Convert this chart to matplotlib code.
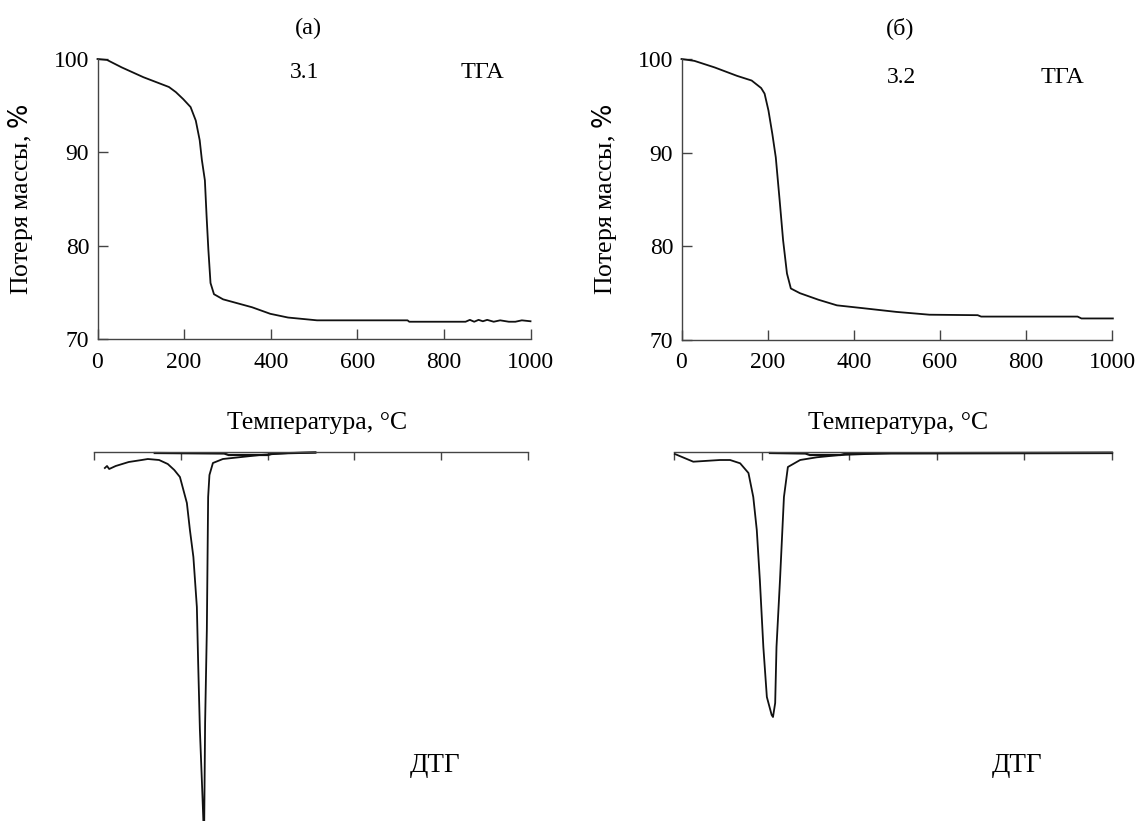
import numpy as np
import matplotlib.pyplot as plt

plt.rcParams['font.family'] = ['Liberation Serif', 'DejaVu Serif']
plt.rcParams['mathtext.fontset'] = 'custom'
plt.rcParams['mathtext.it'] = 'Liberation Serif:italic'

# ТГА, образец 3.1 (а)
tga_a_t = [0, 22, 56, 106, 165, 181, 198, 215, 227, 236, 241, 248, 252, 256, 261, 269,
           290, 357, 399, 440, 507, 716, 720, 850, 860, 870, 880, 890, 900, 915, 930,
           950, 965, 980, 1000]
tga_a_m = [100.0, 99.9, 99.1, 98.05, 97.0, 96.45, 95.7, 94.85, 93.4, 91.3, 89.2, 87.0,
           83.1, 79.6, 76.0, 74.8, 74.25, 73.4, 72.7, 72.3, 72.0, 72.0, 71.85, 71.85,
           72.05, 71.85, 72.05, 71.9, 72.05, 71.85, 72.0, 71.85, 71.85, 72.0, 71.9]

# ТГА, образец 3.2 (б)
tga_b_t = [0, 30, 77, 129, 163, 185, 193, 202, 211, 219, 228, 236, 245, 254, 275, 318,
           361, 421, 499, 576, 688, 696, 920, 929, 1002]
tga_b_m = [100.0, 99.8, 99.1, 98.2, 97.7, 96.9, 96.3, 94.5, 92.0, 89.5, 84.9, 80.65,
           77.1, 75.5, 75.0, 74.3, 73.7, 73.4, 73.0, 72.7, 72.65, 72.5, 72.5, 72.3, 72.3]

# ДТГ (условные единицы)
dtg_a_t = [25, 30, 35, 50, 80, 110, 124, 150, 170, 185, 198, 214, 221, 229, 237, 240,
           244, 250, 252, 254, 256, 260, 263, 266, 274, 297, 340, 383, 450, 510]
dtg_a_v = [-1.6, -1.4, -1.7, -1.4, -1.0, -0.8, -0.7, -0.8, -1.2, -1.8, -2.5, -5.1, -7.8,
           -10.5, -15.5, -21.1, -27.8, -34.5, -36.9, -36.9, -27.1, -17.8, -4.5, -2.3,
           -1.1, -0.7, -0.5, -0.3, -0.1, -0.05]
# след вдоль нулевой линии
band_a_t = [140, 300, 310, 400, 412, 510]
band_a_v = [-0.1, -0.15, -0.3, -0.3, -0.15, -0.05]

dtg_b_t = [2, 44, 105, 128, 151, 170, 181, 189, 196, 204, 212, 223, 226, 231, 234, 242,
           251, 260, 288, 326, 379, 501, 1000]
dtg_b_v = [-0.2, -0.97, -0.8, -0.8, -1.13, -2.1, -4.5, -7.8, -12.8, -19.5, -24.5, -26.3,
           -26.5, -25.1, -19.5, -12.8, -4.5, -1.5, -0.8, -0.53, -0.3, -0.1, -0.05]
band_b_t = [219, 300, 310, 380, 394, 1000]
band_b_v = [-0.1, -0.15, -0.3, -0.3, -0.15, -0.1]

xticks = [0, 200, 400, 600, 800, 1000]
yticks = [70, 80, 90, 100]

W, H = 1137, 821
fig = plt.figure(figsize=(W / 100, H / 100), dpi=100)


def box(x0, y0, x1, y1):
    # пиксели -> доли фигуры
    return [x0 / W, 1 - y1 / H, (x1 - x0) / W, (y1 - y0) / H]


fs_tick = 17
fs_lab = 18.5

tga_axes = [
    (box(97.5, 59, 530.5, 339), tga_a_t, tga_a_m, '(а)', '3.1', 486, 479, 98.5, 890),
    (box(681.5, 59, 1112, 340), tga_b_t, tga_b_m, '(б)', '3.2', 507, 512, 98.0, 886),
]
for rect, t, m, title, sample, tx, sx, sy, gx in tga_axes:
    ax = fig.add_axes(rect)
    ax.plot(t, m, color='#111111', lw=1.3, clip_on=False)
    ax.set_xlim(0, 1000)
    ax.set_ylim(70, 100)
    ax.set_xticks(xticks)
    ax.set_yticks(yticks)
    for s in ['top', 'right']:
        ax.spines[s].set_visible(False)
    for s in ['left', 'bottom']:
        ax.spines[s].set_color('#444444')
        ax.spines[s].set_linewidth(1.0)
    ax.tick_params(direction='in', length=7, width=1.0, color='#444444',
                   labelsize=fs_tick)
    ax.tick_params(axis='x', pad=9)
    ax.tick_params(axis='y', pad=6)
    ax.text(sx, sy, sample, fontsize=fs_tick, ha='center', va='center')
    ax.text(gx, sy, 'ТГА', fontsize=17.5, ha='center', va='center')
    ax.text(tx, 100 + 31 / 281 * 30, title, fontsize=17.5, ha='center', va='center',
            clip_on=False)
    ax.text(-0.178, 0.5, 'Потеря массы, $\\mathit{\\%}$', fontsize=fs_lab,
            rotation=90, ha='center', va='center', transform=ax.transAxes)

dtg_axes = [
    (box(94, 452, 528, 821), dtg_a_t, dtg_a_v, band_a_t, band_a_v, 317, 435),
    (box(674, 452, 1112, 821), dtg_b_t, dtg_b_v, band_b_t, band_b_v, 898, 1017),
]
for rect, t, v, bt, bv, lx, dx in dtg_axes:
    ax = fig.add_axes(rect)
    ax.plot(t, v, color='#111111', lw=1.3, clip_on=False)
    ax.plot(bt, bv, color='#111111', lw=1.6, clip_on=False)
    ax.set_xlim(0, 1000)
    ax.set_ylim(-36.9, 0)
    ax.set_xticks(xticks)
    ax.set_yticks([])
    ax.xaxis.tick_top()
    ax.tick_params(axis='x', direction='in', length=6, width=1.0, color='#444444',
                   labeltop=False, labelbottom=False)
    for s in ['bottom', 'left', 'right']:
        ax.spines[s].set_visible(False)
    ax.spines['top'].set_color('#444444')
    ax.spines['top'].set_linewidth(1.0)
    ax.patch.set_alpha(0)
    fig.text(lx / W, 1 - 423 / H, 'Температура, °C', fontsize=fs_lab,
             ha='center', va='center')
    fig.text(dx / W, 1 - 765 / H, 'ДТГ', fontsize=19.5, ha='center', va='center')

fig.savefig('out.png', dpi=100)
